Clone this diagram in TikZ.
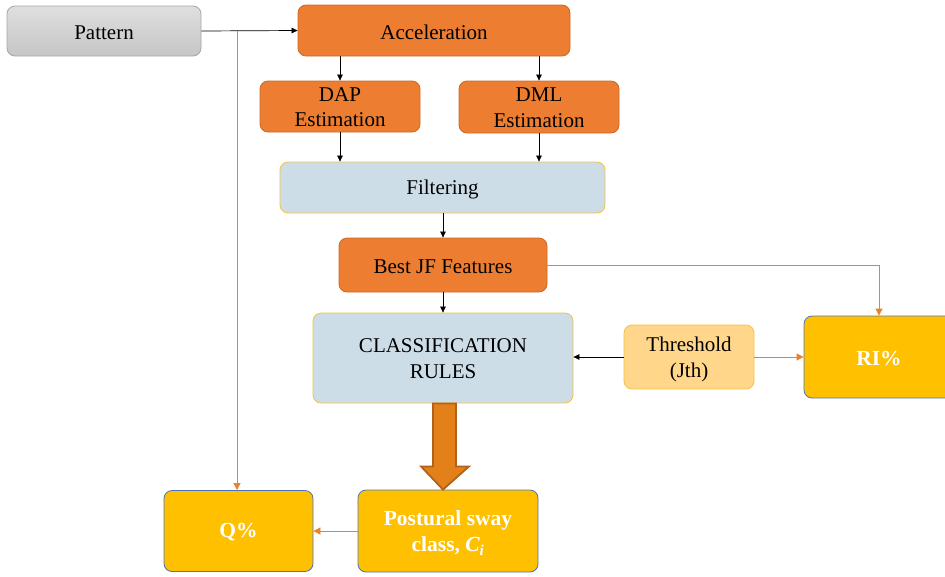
\documentclass[tikz,border=0pt]{standalone}
\usepackage{fontspec}
\setmainfont{Liberation Serif}
\usetikzlibrary{arrows.meta,calc}

\definecolor{accorange}{HTML}{ED7D31}
\definecolor{accedge}{HTML}{C96A28}
\definecolor{paleblue}{HTML}{CDDDE8}
\definecolor{goldfill}{HTML}{FFC000}
\definecolor{goldedge}{HTML}{F5C242}
\definecolor{pastel}{HTML}{FFD68A}
\definecolor{blueedge}{HTML}{4A74C0}
\definecolor{greyedge}{HTML}{A6A6A6}
\definecolor{linkorange}{HTML}{E8822E}
\definecolor{bigarrow}{HTML}{E3801A}
\definecolor{bigedge}{HTML}{B0621C}

% lower a label slightly without changing its box
\newcommand{\dropped}[1]{\raisebox{-1.5pt}[\height][\depth]{#1}}
% two centred lines, lowered the same way
\newcommand{\twolines}[2]{\raisebox{-2.5pt}[\height][\depth]{\begin{tabular}{@{}c@{}}#1\\#2\end{tabular}}}

\tikzset{
  box/.style={rectangle, rounded corners=8pt, inner sep=0pt, align=center,
    font=\fontsize{21}{25.5}\selectfont, line width=0.8pt},
  greybox/.style={box, draw=greyedge, top color=gray!25, bottom color=gray!45},
  orangebox/.style={box, fill=accorange, draw=accedge},
  bluebox/.style={box, fill=paleblue, draw=goldedge},
  pastelbox/.style={box, fill=pastel, draw=goldedge},
  resultbox/.style={box, fill=goldfill, draw=blueedge, text=white,
    font=\fontsize{21.5}{26}\selectfont\bfseries},
  flow/.style={draw=black, line width=0.7pt, -{Triangle[length=6pt,width=5.5pt]}},
  oflow/.style={draw=linkorange, line width=0.8pt, -{Triangle[length=7pt,width=7pt]}},
}

\begin{document}
\begin{tikzpicture}[x=1pt, y=-1pt]
  \clip (0,0) rectangle (945,576);

  % processing chain
  \node[greybox, minimum width=194pt, minimum height=50pt] (pat) at (104,31) {\dropped{Pattern}};
  \node[orangebox, minimum width=272pt, minimum height=51pt] (acc) at (434,30.5) {\dropped{Acceleration}};
  \node[orangebox, minimum width=160pt, minimum height=51pt] (dap) at (340,106.5) {\twolines{DAP}{Estimation}};
  \node[orangebox, minimum width=160pt, minimum height=52pt] (dml) at (539,107) {\twolines{DML}{Estimation}};
  \node[bluebox, minimum width=325pt, minimum height=51pt] (fil) at (442.5,187.5) {\dropped{Filtering}};
  \node[orangebox, minimum width=208pt, minimum height=54pt] (bjf) at (443,265) {\dropped{Best JF Features}};
  \node[bluebox, minimum width=260pt, minimum height=90pt] (cls) at (443,358) {\twolines{CLASSIFICATION}{RULES}};
  \node[pastelbox, minimum width=130pt, minimum height=64pt] (thr) at (689,357) {\twolines{Threshold}{(Jth)}};

  % outcome boxes
  \node[resultbox, minimum width=150pt, minimum height=82pt] (ri) at (879,357) {\dropped{RI\%}};
  \node[resultbox, minimum width=180pt, minimum height=82pt] (ps) at (448,531)
    {\twolines{Postural sway}{class, {\itshape C}\textsubscript{\itshape i}}};
  \node[resultbox, minimum width=149pt, minimum height=81pt] (q) at (238.5,531) {\dropped{Q\%}};

  % black connectors
  \coordinate (split) at (237,31);
  \draw[flow] (pat.east) -- (acc.west);
  \draw[flow] (dap.north |- acc.south) -- (dap.north);
  \draw[flow] (dml.north |- acc.south) -- (dml.north);
  \draw[flow] (dap.south) -- (dap.south |- fil.north);
  \draw[flow] (dml.south) -- (dml.south |- fil.north);
  \draw[flow] (fil.south -| bjf.north) -- (bjf.north);
  \draw[flow] (bjf.south) -- (cls.north);
  \draw[flow] (thr.west) -- (cls.east |- thr.west);

  % orange connectors
  \draw[oflow] (split) -- (split |- q.north);
  \draw[oflow] (bjf.east) -| (ri.north);
  \draw[oflow] (thr.east) -- (ri.west |- thr.east);
  \draw[oflow] (ps.west) -- (q.east |- ps.west);

  % block arrow from the rules to the class
  \draw[fill=bigarrow, draw=bigedge, line width=1.8pt, line join=miter]
    ($(cls.south)+(-10,0)$) -- ($(cls.south)+(13,0)$) -- ($(cls.south)+(13,63)$)
    -- ($(cls.south)+(26,63)$) -- ($(ps.north)+(-5,0)$) -- ($(cls.south)+(-22,63)$)
    -- ($(cls.south)+(-10,63)$) -- cycle;
\end{tikzpicture}
\end{document}
